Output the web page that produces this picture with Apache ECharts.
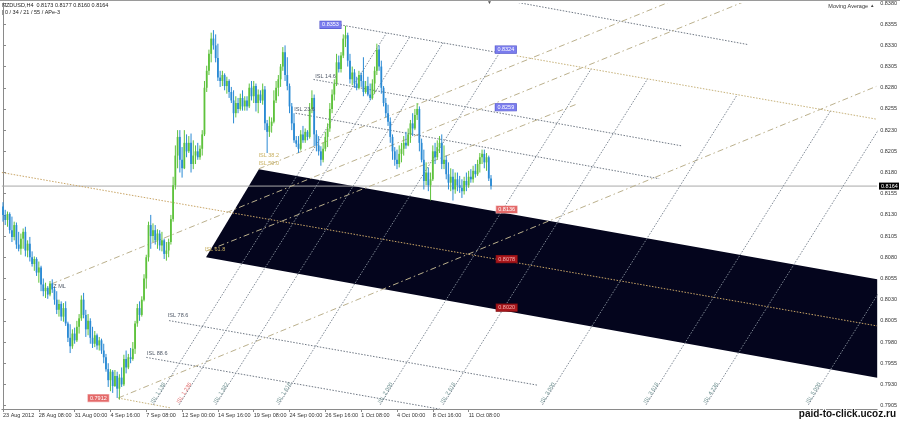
<!DOCTYPE html>
<html><head><meta charset="utf-8">
<script src="https://cdn.jsdelivr.net/npm/echarts@6/dist/echarts.min.js"></script>
<style>html,body{margin:0;padding:0;background:#fff}#c{width:900px;height:422px}</style>
</head><body><div id="c"></div>
<script>
// ---------------- DATA ----------------
const tickLabels = ['23 Aug 2012','28 Aug 08:00','31 Aug 00:00','4 Sep 16:00','7 Sep 08:00','12 Sep 00:00','14 Sep 16:00','19 Sep 08:00','24 Sep 00:00','26 Sep 16:00','1 Oct 08:00','4 Oct 00:00','8 Oct 16:00','11 Oct 08:00'];
const yTicks = [0.7905,0.7930,0.7955,0.7980,0.8005,0.8030,0.8055,0.8080,0.8105,0.8130,0.8155,0.8180,0.8205,0.8230,0.8255,0.8280,0.8305,0.8330,0.8355,0.8380];
const lastPrice = 0.8164;

const opens = [
.8140,.8130,.8124,.8131,.8112,.8104,.8118,.8095,.8090,.8102,
.8110,.8088,.8096,.8080,.8072,.8078,.8062,.8068,.8048,.8040,
.8044,.8036,.8049,.8042,.8030,.8018,.8025,.8010,.8020,.8002,
.7985,.7975,.7990,.7982,.7998,.8008,.8030,.8012,.7995,.8005,
.7985,.7978,.7988,.7976,.7982,.7970,.7962,.7948,.7935,.7945,
.7928,.7940,.7925,.7938,.7930,.7960,.7950,.7962,.7960,.7972,
.8002,.8020,.8012,.8030,.8055,.8080,.8118,.8105,.8112,.8100,
.8108,.8094,.8100,.8084,.8088,.8098,.8125,.8165,.8200,.8222,
.8195,.8185,.8215,.8205,.8215,.8190,.8200,.8205,.8198,.8208,
.8225,.8280,.8300,.8320,.8338,.8330,.8315,.8292,.8288,.8295,
.8282,.8288,.8275,.8265,.8250,.8262,.8255,.8268,.8258,.8265,
.8258,.8280,.8270,.8282,.8262,.8272,.8265,.8278,.8238,.8228,
.8235,.8240,.8265,.8280,.8290,.8305,.8322,.8295,.8282,.8258,
.8238,.8218,.8214,.8208,.8225,.8218,.8228,.8222,.8255,.8268,
.8225,.8212,.8205,.8195,.8208,.8222,.8232,.8255,.8272,.8285,
.8310,.8302,.8318,.8338,.8342,.8312,.8290,.8298,.8285,.8280,
.8295,.8288,.8275,.8282,.8272,.8268,.8285,.8300,.8325,.8305,
.8280,.8262,.8250,.8240,.8222,.8205,.8195,.8190,.8202,.8208,
.8215,.8212,.8225,.8238,.8232,.8248,.8255,.8215,.8195,.8170,
.8180,.8165,.8172,.8205,.8198,.8210,.8215,.8190,.8195,.8178,
.8168,.8175,.8160,.8172,.8165,.8162,.8158,.8170,.8165,.8175,
.8172,.8182,.8178,.8190,.8198,.8202,.8192,.8198,.8173];
const closes = [
.8130,.8124,.8131,.8112,.8104,.8118,.8095,.8090,.8102,.8110,
.8088,.8096,.8080,.8072,.8078,.8062,.8068,.8048,.8040,.8044,
.8036,.8049,.8042,.8030,.8018,.8025,.8010,.8020,.8002,.7985,
.7975,.7990,.7982,.7998,.8008,.8030,.8012,.7995,.8005,.7985,
.7978,.7988,.7976,.7982,.7970,.7962,.7948,.7935,.7945,.7928,
.7940,.7925,.7938,.7930,.7960,.7950,.7962,.7960,.7972,.8002,
.8020,.8012,.8030,.8055,.8080,.8118,.8105,.8112,.8100,.8108,
.8094,.8100,.8084,.8088,.8098,.8125,.8165,.8200,.8222,.8195,
.8185,.8215,.8205,.8215,.8190,.8200,.8205,.8198,.8208,.8225,
.8280,.8300,.8320,.8338,.8330,.8315,.8292,.8288,.8295,.8282,
.8288,.8275,.8265,.8250,.8262,.8255,.8268,.8258,.8265,.8258,
.8280,.8270,.8282,.8262,.8272,.8265,.8278,.8238,.8228,.8235,
.8240,.8265,.8280,.8290,.8305,.8322,.8295,.8282,.8258,.8238,
.8218,.8214,.8208,.8225,.8218,.8228,.8222,.8255,.8268,.8225,
.8212,.8205,.8195,.8208,.8222,.8232,.8255,.8272,.8285,.8310,
.8302,.8318,.8338,.8342,.8312,.8290,.8298,.8285,.8280,.8295,
.8288,.8275,.8282,.8272,.8268,.8285,.8300,.8325,.8305,.8280,
.8262,.8250,.8240,.8222,.8205,.8195,.8190,.8202,.8208,.8215,
.8212,.8225,.8238,.8232,.8248,.8255,.8215,.8195,.8170,.8180,
.8165,.8172,.8205,.8198,.8210,.8215,.8190,.8195,.8178,.8168,
.8175,.8160,.8172,.8165,.8162,.8158,.8170,.8165,.8175,.8172,
.8182,.8178,.8190,.8198,.8202,.8192,.8198,.8173,.8164];
const lows = [
.8122,.8118,.8116,.8108,.8098,.8100,.8090,.8087,.8083,.8090,
.8081,.8080,.8075,.8069,.8064,.8058,.8050,.8040,.8034,.8032,
.8031,.8034,.8038,.8024,.8013,.8010,.8005,.8004,.7999,.7980,
.7967,.7972,.7978,.7980,.7990,.8005,.8008,.7986,.7988,.7978,
.7973,.7974,.7971,.7970,.7966,.7955,.7945,.7927,.7922,.7920,
.7927,.7914,.7912,.7927,.7928,.7943,.7948,.7955,.7958,.7966,
.7998,.8005,.8010,.8028,.8043,.8075,.8090,.8098,.8095,.8090,
.8088,.8087,.8078,.8076,.8080,.8095,.8122,.8160,.8185,.8180,
.8174,.8184,.8198,.8203,.8180,.8184,.8190,.8195,.8195,.8200,
.8223,.8275,.8295,.8310,.8325,.8310,.8288,.8281,.8282,.8277,
.8273,.8268,.8262,.8238,.8245,.8250,.8253,.8253,.8253,.8253,
.8256,.8265,.8262,.8252,.8250,.8262,.8260,.8230,.8203,.8222,
.8227,.8238,.8262,.8270,.8281,.8300,.8288,.8277,.8250,.8230,
.8215,.8210,.8203,.8206,.8215,.8215,.8218,.8220,.8250,.8211,
.8205,.8200,.8188,.8192,.8205,.8210,.8228,.8250,.8265,.8282,
.8298,.8298,.8315,.8328,.8305,.8285,.8283,.8280,.8277,.8278,
.8281,.8270,.8273,.8270,.8265,.8266,.8273,.8295,.8300,.8273,
.8258,.8245,.8235,.8215,.8195,.8188,.8184,.8186,.8192,.8200,
.8208,.8211,.8215,.8223,.8230,.8242,.8205,.8192,.8160,.8165,
.8158,.8147,.8170,.8190,.8195,.8203,.8184,.8184,.8172,.8160,
.8158,.8147,.8155,.8158,.8156,.8150,.8154,.8158,.8162,.8168,
.8168,.8174,.8176,.8180,.8190,.8185,.8182,.8170,.8160];
const highs = [
.8145,.8136,.8134,.8133,.8128,.8122,.8121,.8110,.8108,.8114,
.8116,.8100,.8104,.8087,.8081,.8080,.8075,.8070,.8055,.8050,
.8046,.8052,.8054,.8045,.8040,.8030,.8028,.8026,.8028,.8004,
.8001,.7995,.7997,.8005,.8013,.8035,.8038,.8018,.8013,.8008,
.7998,.7993,.7990,.7986,.7984,.7978,.7966,.7955,.7948,.7947,
.7947,.7945,.7942,.7950,.7965,.7970,.7966,.7973,.7980,.8005,
.8025,.8028,.8034,.8060,.8083,.8122,.8130,.8120,.8118,.8113,
.8112,.8110,.8102,.8098,.8102,.8130,.8175,.8212,.8230,.8230,
.8210,.8230,.8225,.8223,.8226,.8218,.8212,.8215,.8212,.8230,
.8288,.8306,.8325,.8345,.8348,.8343,.8332,.8300,.8300,.8297,
.8293,.8290,.8281,.8277,.8270,.8268,.8273,.8277,.8270,.8270,
.8285,.8288,.8288,.8285,.8278,.8277,.8285,.8282,.8242,.8246,
.8245,.8277,.8288,.8295,.8308,.8328,.8330,.8316,.8285,.8262,
.8250,.8223,.8223,.8230,.8235,.8232,.8230,.8262,.8277,.8272,
.8230,.8223,.8211,.8215,.8228,.8238,.8262,.8278,.8290,.8320,
.8318,.8322,.8343,.8353,.8345,.8320,.8305,.8302,.8293,.8300,
.8298,.8316,.8288,.8293,.8285,.8290,.8305,.8332,.8330,.8312,
.8282,.8268,.8260,.8245,.8225,.8210,.8207,.8212,.8215,.8223,
.8228,.8232,.8242,.8250,.8255,.8262,.8258,.8220,.8207,.8192,
.8186,.8180,.8212,.8215,.8218,.8223,.8225,.8212,.8200,.8192,
.8185,.8184,.8180,.8180,.8176,.8172,.8175,.8180,.8182,.8184,
.8188,.8190,.8195,.8203,.8207,.8207,.8203,.8200,.8177];

// drawing objects, in [bar index, price]
const channelUpper = [[114.3, 0.8184], [390.5, 0.8054]];
const channelLower = [[90.7, 0.8080], [390.5, 0.7938]];
const channelMiddle = [[-0.5, 0.8180], [390.5, 0.7999]];
const fiboGrayLines = [
  [[150.7, 0.83542], [219.7, 0.83222]],
  [[138.7, 0.82898], [303.3, 0.82114]],
  [[130.7, 0.82500], [293.1, 0.81727]],
  [[225.0, 0.83830], [333.1, 0.83308]],
  [[74.2, 0.80053], [238.8, 0.79291]],
  [[64.0, 0.79619], [199.7, 0.78987]]
];
const fiboTanLines = [
  [[229.5, 0.83176], [390.1, 0.82430]],
  [[51.5, 0.79139], [75.1, 0.79022]]
];
const pitchforkLines = [
  [[51.5, 0.7914], [390.1, 0.82816]],
  [[21.7, 0.80486], [340.0, 0.83912]],
  [[114.3, 0.81844], [310.0, 0.83944]],
  [[90.7, 0.80872], [256.2, 0.82606]]
];
const timeLines = [
  [[67.1, 0.7906], [171.3, 0.83446]],
  [[78.7, 0.7906], [181.7, 0.83398]],
  [[95.1, 0.7906], [196.6, 0.83329]],
  [[123.2, 0.7906], [221.8, 0.83212]],
  [[168.5, 0.7906], [262.7, 0.83022]],
  [[196.6, 0.7906], [287.9, 0.82904]],
  [[241.0, 0.7906], [328.0, 0.82718]],
  [[287.3, 0.7906], [369.6, 0.82525]],
  [[314.0, 0.7906], [393.6, 0.82411]],
  [[359.8, 0.7906], [399.8, 0.80743]]
];
const timeTags = [
  {at:[69.3, 0.79198], text:'ISL 1.138'},
  {at:[80.9, 0.79198], text:'ISL 1.236', hot:true},
  {at:[97.4, 0.79198], text:'ISL 1.382'},
  {at:[125.4, 0.79198], text:'ISL 1.618'},
  {at:[170.8, 0.79198], text:'ISL 2.000'},
  {at:[198.8, 0.79198], text:'ISL 2.618'},
  {at:[243.3, 0.79198], text:'ISL 3.000'},
  {at:[289.5, 0.79198], text:'ISL 3.618'},
  {at:[316.2, 0.79198], text:'ISL 4.236'},
  {at:[362.0, 0.79198], text:'ISL 5.000'}
];
const levelTags = [
  {at:[144.1, 0.82933], text:'ISL 14.6'},
  {at:[134.7, 0.82547], text:'ISL 23.6'},
  {at:[78.2, 0.80111], text:'ISL 78.6'},
  {at:[68.9, 0.79666], text:'ISL 88.6'},
  {at:[25.3, 0.80451], text:'Z ML'}
];
const channelTags = [
  {at:[118.7, 0.81997], text:'ISL 38.2'},
  {at:[118.7, 0.81903], text:'ISL 50.0'},
  {at:[94.7, 0.80896], text:'ISL 61.8'}
];
const blueTags = [
  {at:[146.3, 0.83542], text:'0.8353'},
  {at:[224.6, 0.83250], text:'0.8324'},
  {at:[224.6, 0.82570], text:'0.8259'}
];
const redTags = [
  {at:[225.0, 0.81364], text:'0.8136', light:true},
  {at:[225.0, 0.80779], text:'0.8078'},
  {at:[225.0, 0.80205], text:'0.8020'},
  {at:[42.6, 0.79139], text:'0.7912', light:true}
];

// ---------------- CHART ----------------
const FONT = '"Liberation Sans", Arial, sans-serif';
const SLOTS = 391;
const UP = '#5ec23c', DOWN = '#2a8ad4';
const categories = Array.from({length: SLOTS}, (_, i) => String(i));
const showTick = (idx) => idx % 16 === 0 && idx / 16 < tickLabels.length;

function segSeries(segs, color, dash, z) {
  return {
    type: 'custom', xAxisIndex: 1, yAxisIndex: 0, z: z, silent: true, clip: true,
    data: segs.map(s => [s[0][0], s[0][1], s[1][0], s[1][1]]),
    encode: {x: [0, 2], y: [1, 3]},
    renderItem: (params, api) => {
      const a = api.coord([api.value(0), api.value(1)]);
      const b = api.coord([api.value(2), api.value(3)]);
      return {type: 'line', shape: {x1: a[0], y1: a[1], x2: b[0], y2: b[1]},
        style: {stroke: color, lineWidth: 1, lineDash: dash, fill: null}};
    }
  };
}
function textSeries(items, styleFn, z) {
  return {
    type: 'custom', xAxisIndex: 1, yAxisIndex: 0, z: z, silent: true, clip: false,
    data: items.map((t, i) => [t.at[0], t.at[1], i]),
    encode: {x: 0, y: 1},
    renderItem: (params, api) => {
      const t = items[api.value(2)];
      const p = api.coord([api.value(0), api.value(1)]);
      return Object.assign({type: 'text', x: p[0], y: p[1]}, styleFn(t));
    }
  };
}

const chart = echarts.init(document.getElementById('c'), null, {renderer: 'canvas', width: 900, height: 422});

const option = {
  animation: false,
  backgroundColor: '#ffffff',
  grid: {left: 0, right: 21, top: 0, bottom: 13, containLabel: false},
  xAxis: [
    {type: 'category', data: categories, boundaryGap: true,
      axisLine: {show: true, lineStyle: {color: '#8a8a8a', width: 1}},
      axisTick: {show: true, interval: showTick, alignWithLabel: true, length: 3, lineStyle: {color: '#8a8a8a'}},
      axisLabel: {interval: showTick, formatter: (v, idx) => tickLabels[idx / 16] || '',
        align: 'left', fontSize: 5.5, color: '#333', margin: 3, fontFamily: FONT},
      splitLine: {show: false}},
    {type: 'value', min: -0.5, max: 390.5, show: false}
  ],
  yAxis: {type: 'value', position: 'right', min: 0.7901, max: 0.8380, scale: true,
    axisLine: {show: true, lineStyle: {color: '#8a8a8a', width: 1}},
    axisTick: {show: true, customValues: yTicks, length: 3, lineStyle: {color: '#8a8a8a'}},
    axisLabel: {customValues: yTicks, formatter: v => v.toFixed(4), fontSize: 5.5, color: '#333', margin: 3, fontFamily: FONT},
    splitLine: {show: false}},
  series: [
    {
      type: 'custom', xAxisIndex: 1, yAxisIndex: 0, z: 1, silent: true, clip: true,
      data: [[channelUpper[0][0], channelUpper[0][1]]],
      encode: {x: 0, y: 1},
      renderItem: (params, api) => {
        const pts = [channelUpper[0], channelUpper[1], channelLower[1], channelLower[0]].map(p => api.coord(p));
        return {type: 'polygon', shape: {points: pts}, style: {fill: '#04051d', stroke: null}};
      }
    },
    segSeries([[[-0.5, lastPrice], [390.5, lastPrice]]], '#a9a9a9', null, 2),
    segSeries([channelMiddle], '#c9a566', [1.5, 1.5], 3),
    segSeries(fiboGrayLines, '#6f7884', [1.5, 1.5], 3),
    segSeries(fiboTanLines, '#c7b27a', [1.5, 1.5], 3),
    segSeries(pitchforkLines, '#bbb08c', [6, 3, 1.5, 3], 3),
    segSeries(timeLines, '#7e8894', [1.5, 1.5], 3),
    {
      type: 'custom', xAxisIndex: 0, yAxisIndex: 0, z: 5, silent: true, clip: true,
      data: opens.map((o, i) => [i, o, closes[i], lows[i], highs[i]]),
      encode: {x: 0, y: [1, 2, 3, 4]},
      renderItem: (params, api) => {
        const i = params.dataIndex;
        const o = opens[i], c = closes[i], l = lows[i], h = highs[i];
        const po = api.coord([i, o]), pc = api.coord([i, c]);
        const pl = api.coord([i, l]), ph = api.coord([i, h]);
        const col = c >= o ? UP : DOWN;
        const x = po[0];
        const top = Math.min(po[1], pc[1]);
        const bh = Math.max(Math.abs(po[1] - pc[1]), 1);
        return {type: 'group', children: [
          {type: 'line', shape: {x1: x, y1: ph[1], x2: x, y2: pl[1]}, style: {stroke: col, lineWidth: 1}},
          {type: 'rect', shape: {x: x - 0.9, y: top, width: 1.8, height: bh}, style: {fill: col}}
        ]};
      }
    },
    textSeries(timeTags, t => ({rotation: 1.012, style: {text: t.text, fill: t.hot ? '#e06b6b' : '#6b8e8e',
      fontSize: 5.5, fontFamily: FONT, align: 'center', verticalAlign: 'middle'}}), 6),
    textSeries(levelTags, t => ({style: {text: t.text, fill: '#4f5866', fontSize: 5.5, fontFamily: FONT,
      align: 'center', verticalAlign: 'middle'}}), 6),
    textSeries(channelTags, t => ({style: {text: t.text, fill: '#c8b060', fontSize: 5.5, fontFamily: FONT,
      align: 'center', verticalAlign: 'middle'}}), 6),
    textSeries(blueTags, t => ({style: {text: t.text, fill: '#ffffff', fontSize: 5.5, fontFamily: FONT,
      align: 'center', verticalAlign: 'middle', backgroundColor: '#7a7cee', borderColor: '#4f52c8',
      borderWidth: 0.6, padding: [1, 2, 0, 2]}}), 7),
    textSeries(redTags, t => ({style: {text: t.text, fill: t.light ? '#ffffff' : '#f3b0b0', fontSize: 5.5, fontFamily: FONT,
      align: 'center', verticalAlign: 'middle', backgroundColor: t.light ? '#e46a6a' : '#a8161b',
      borderColor: t.light ? '#f3b8b8' : '#7a0e10', borderWidth: 0.6, padding: [1, 2, 0, 2]}}), 7)
  ]
};
chart.setOption(option);

const py = chart.convertToPixel({yAxisIndex: 0}, lastPrice);
chart.setOption({
  graphic: [
    {type: 'line', z: 50, shape: {x1: 0, y1: 0.5, x2: 900, y2: 0.5}, style: {stroke: '#9a9a9a', lineWidth: 1}},
    {type: 'text', z: 50, x: 2, y: 2, style: {text: 'NZDUSD,H4  0.8173 0.8177 0.8160 0.8164', fill: '#222',
      fontSize: 5.5, fontFamily: FONT, verticalAlign: 'top'}},
    {type: 'text', z: 50, x: 2, y: 9.5, style: {text: '| 0 / 34 / 21 / 55 / APe-3', fill: '#222',
      fontSize: 5.5, fontFamily: FONT, verticalAlign: 'top'}},
    {type: 'text', z: 50, x: 868, y: 3, style: {text: 'Moving Average', fill: '#333',
      fontSize: 5.5, fontFamily: FONT, align: 'right', verticalAlign: 'top'}},
    {type: 'text', z: 50, x: 870, y: 3, style: {text: '\u25B2', fill: '#444', fontSize: 4.5, fontFamily: FONT, verticalAlign: 'top'}},
    {type: 'text', z: 50, x: 487, y: 0, style: {text: '\u25BC', fill: '#555', fontSize: 5, fontFamily: FONT, verticalAlign: 'top'}},
    {type: 'rect', z: 50, shape: {x: 879, y: py - 3.5, width: 20, height: 7}, style: {fill: '#000'}},
    {type: 'text', z: 51, x: 881, y: py, style: {text: lastPrice.toFixed(4), fill: '#fff', fontSize: 5.5,
      fontFamily: FONT, verticalAlign: 'middle'}},
    {type: 'text', z: 60, x: 896, y: 414, style: {text: 'paid-to-click.ucoz.ru', fill: '#111', stroke: '#fff', lineWidth: 2,
      fontSize: 10, fontWeight: 'bold', fontFamily: FONT, align: 'right', verticalAlign: 'middle'}}
  ]
});
</script>
</body></html>
